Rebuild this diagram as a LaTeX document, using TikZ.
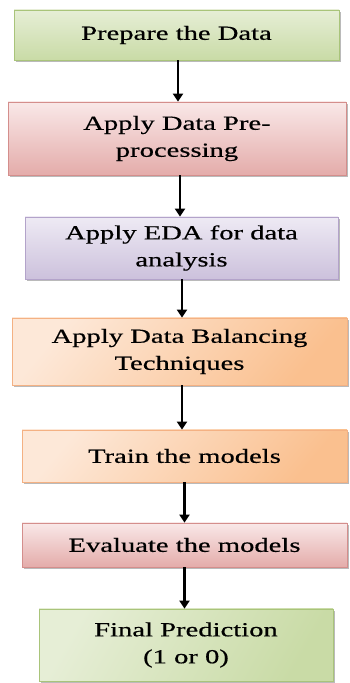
\documentclass[tikz,border=0pt]{standalone}
\usepackage{fontspec}
\setmainfont{Liberation Serif}
\newfontfamily\boxfont[FakeStretch=1.43,FakeBold=0.5]{Liberation Serif}
\usetikzlibrary{arrows.meta,shadows}
\definecolor{grnA}{HTML}{E6EED6}
\definecolor{grnB}{HTML}{C9DBA6}
\definecolor{grnD}{HTML}{A9C47A}
\definecolor{redA}{HTML}{F9E8E8}
\definecolor{redB}{HTML}{E4ACAA}
\definecolor{redD}{HTML}{D48E8C}
\definecolor{purA}{HTML}{EEEAF4}
\definecolor{purB}{HTML}{CCC1DC}
\definecolor{purD}{HTML}{B3A3CA}
\definecolor{orA}{HTML}{FDE8D8}
\definecolor{orB}{HTML}{FAC08F}
\definecolor{orD}{HTML}{F4B183}
\tikzset{
  stepbox/.style={rectangle, inner sep=0pt, align=center, line width=0.8pt,
    font=\boxfont\fontsize{20}{27}\selectfont,
    drop shadow={shadow xshift=2pt, shadow yshift=-2pt, fill=black!45, opacity=0.6}},
  greenbox/.style={stepbox, draw=grnD, top color=grnA, bottom color=grnB},
  greenboxb/.style={stepbox, draw=grnD, shading=axis, left color=grnA, right color=grnB, shading angle=60},
  redbox/.style={stepbox, draw=redD, top color=redA, bottom color=redB},
  purbox/.style={stepbox, draw=purD, top color=purA, bottom color=purB},
  orbox/.style={stepbox, draw=orD, shading=axis, left color=orA, right color=orB, shading angle=50},
  arr/.style={line width=2.2pt, -{Triangle[width=10pt,length=8pt]}}
}
\begin{document}
\begin{tikzpicture}[x=1pt,y=1pt]
\useasboundingbox (0,0) rectangle (349,683);
\node[greenbox, minimum width=325pt, minimum height=50pt] (b1) at (176.5,648) {Prepare the Data};
\node[redbox, minimum width=338pt, minimum height=73pt] (b2) at (177,544.5) {Apply Data Pre-\\processing};
\node[purbox, minimum width=313pt, minimum height=62pt] (b3) at (181.5,435) {Apply EDA for data\\analysis};
\node[orbox, minimum width=335pt, minimum height=67pt] (b4) at (179.5,331.5) {Apply Data Balancing\\Techniques};
\node[orbox, minimum width=325pt, minimum height=52pt] (b5) at (184.5,227) {Train the models};
\node[redbox, minimum width=325pt, minimum height=44pt] (b6) at (184.5,138) {Evaluate the models};
\node[greenboxb, minimum width=294pt, minimum height=72pt] (b7) at (186,38) {Final Prediction\\(1 or 0)};
\draw[arr] ([xshift=1.5pt]b1.south) -- ([xshift=1.5pt]b1.south |- b2.north);
\draw[arr] ([xshift=3pt]b2.south) -- ([xshift=3pt]b2.south |- b3.north);
\draw[arr] ([xshift=0.5pt]b3.south) -- ([xshift=0.5pt]b3.south |- b4.north);
\draw[arr] ([xshift=2.5pt]b4.south) -- ([xshift=2.5pt]b4.south |- b5.north);
\draw[arr] (b5.south) -- (b5.south |- b6.north);
\draw[arr] (b6.south) -- (b6.south |- b7.north);
\end{tikzpicture}
\end{document}
